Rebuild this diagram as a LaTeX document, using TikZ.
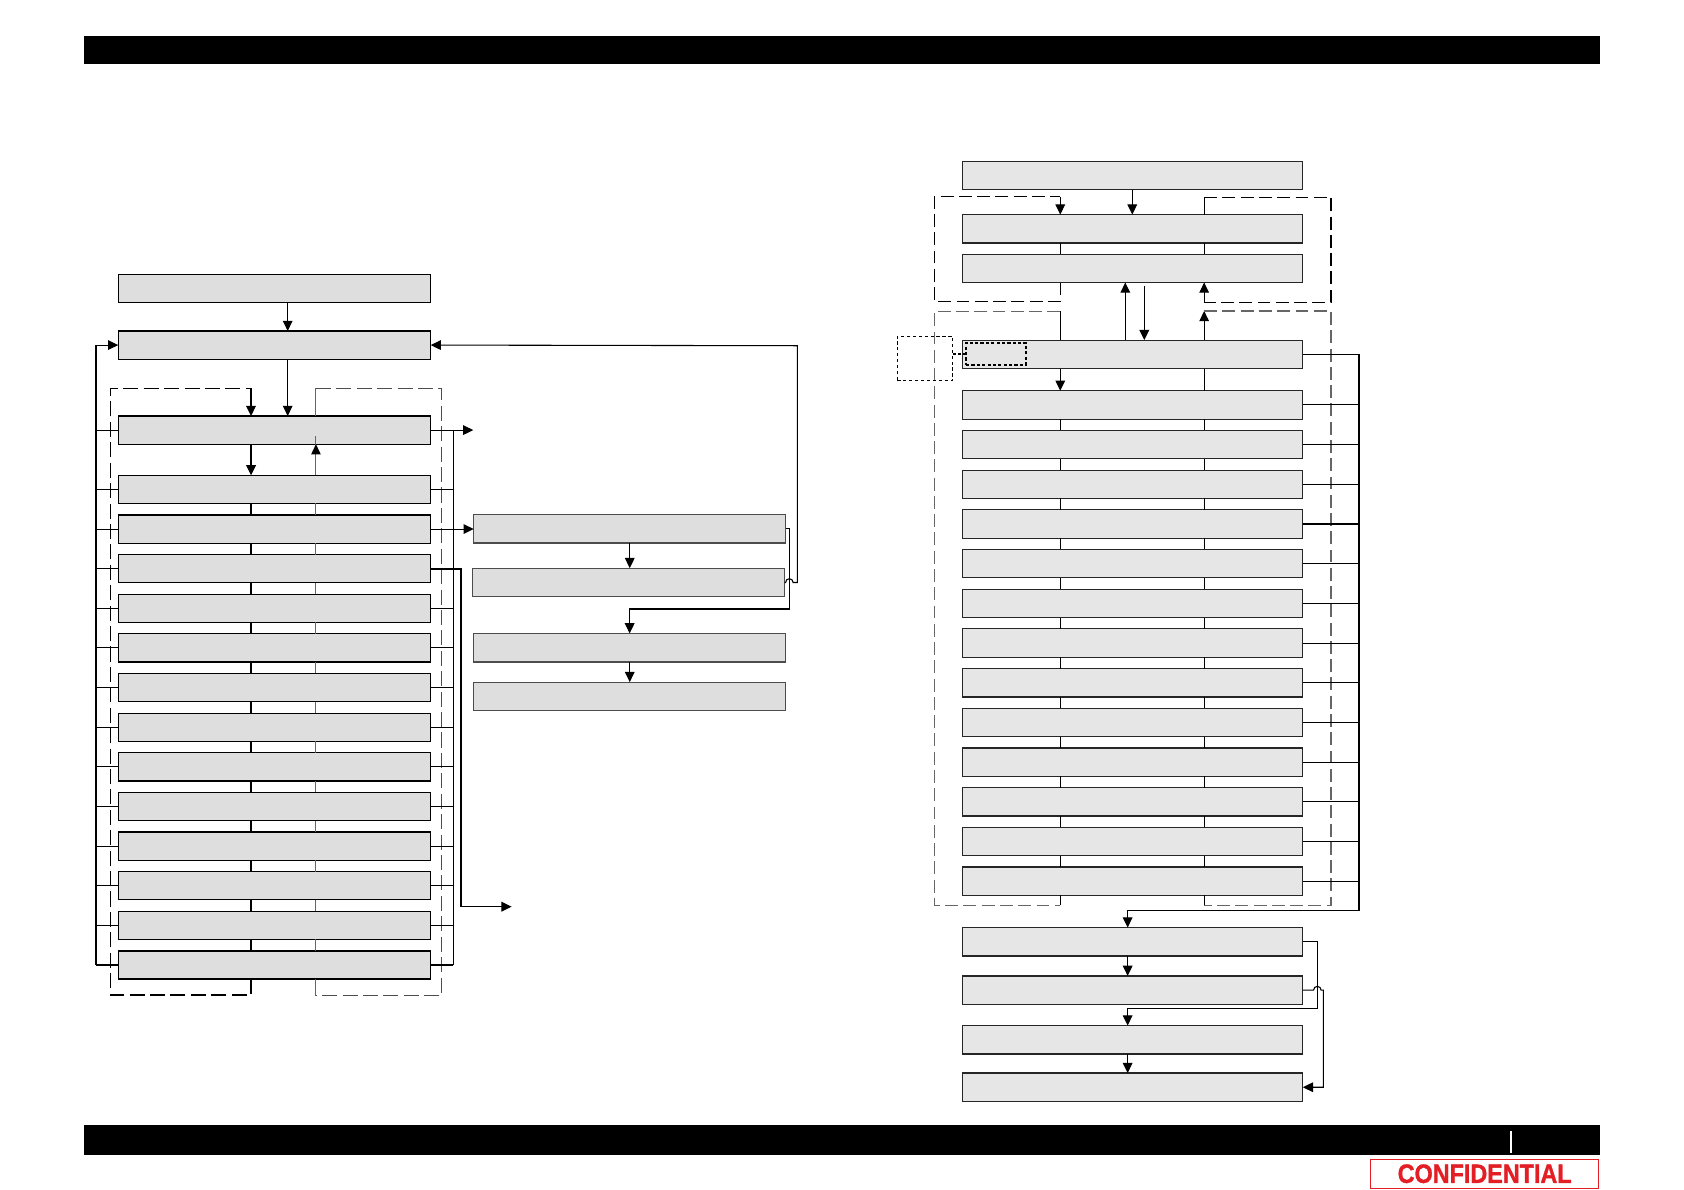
\documentclass[tikz,border=0pt]{standalone}
\usepackage{fontspec}
\setmainfont{Liberation Sans}
\newfontfamily\confont{Liberation Sans}[BoldFeatures={FakeBold=1.3}]
\usepackage{graphicx}
\usetikzlibrary{arrows.meta}
\definecolor{boxL}{HTML}{DEDEDE}
\definecolor{boxR}{HTML}{E6E6E6}
\definecolor{confred}{HTML}{E31E24}
\begin{document}
\begin{tikzpicture}[x=1pt,y=-1pt,
  line width=1pt,
  lbox/.style={draw=black,line width=1.1pt,fill=boxL,minimum width=290.8pt,minimum height=26.2pt,inner sep=0pt,outer sep=0pt},
  mbox/.style={draw=black!70,line width=1.1pt,fill=boxL,minimum width=290.4pt,minimum height=26.6pt,inner sep=0pt,outer sep=0pt},
  rbox/.style={draw=black!85,line width=1.1pt,fill=boxR,minimum width=316.8pt,minimum height=26.4pt,inner sep=0pt,outer sep=0pt},
  arr/.style={-{Triangle[length=9.5pt,width=9pt]}},
  dashL/.style={line width=1.4pt,dash pattern=on 14pt off 5pt},
  dashLg/.style={line width=1.1pt,black!70,dash pattern=on 14pt off 5pt},
  dashR/.style={line width=1pt,dash pattern=on 12pt off 5pt},
  dashRg/.style={line width=1pt,black!60,dash pattern=on 12pt off 5pt},
  dotbox/.style={draw=black,line width=0.8pt,dash pattern=on 3pt off 2.5pt,inner sep=0pt,outer sep=0pt},
  dotin/.style={draw=black,line width=1.8pt,dash pattern=on 3pt off 2pt,inner sep=0pt,outer sep=0pt}
]
\useasboundingbox (0,0) rectangle (1567,1107.3);

% header and footer bars
\fill[black] (78.2,33.2) rectangle (1488.8,59.8);
\fill[black] (78.2,1046.8) rectangle (1488.8,1074.7);
\draw[white,line width=1.3pt] (1406,1052.4) -- (1406,1072.6);
\node[draw=confred,line width=1.3pt,fill=white,minimum width=212.2pt,minimum height=26.9pt,inner sep=0pt] (conf) at (1381.5,1092.2)
  {\fontsize{24.7}{24.7}\selectfont\confont\bfseries\color{confred}\scalebox{0.88}[1]{CONFIDENTIAL}};

% ---------------- left column ----------------
\coordinate (lbus) at (89.3,0);
\coordinate (a1) at (233.6,0);
\coordinate (a2) at (294,0);
\coordinate (rbus) at (421.8,0);
\coordinate (thk) at (429,0);

\node[lbox] (LA) at (255.4,268.6) {};
\node[lbox] (LB) at (255.4,321.1) {};
\node[lbox] (L0) at (255.4,400.2) {};
\foreach \i in {1,...,13}{
  \pgfmathsetmacro\yc{455.4+(\i-1)*36.88}
  \node[lbox] (L\i) at (255.4,\yc) {};
}
\draw[arr] (LA.south -| 267.7,0) -- (LB.north -| 267.7,0);
\draw[arr] (LB.south -| 267.7,0) -- (L0.north -| 267.7,0);

% left dashed group
\draw[dashL] (a1 |- L13.south) -- (233.6,926) -- (103,926) -- (103,361.3) -- (233.6,361.3);
\draw[arr,line width=1.4pt] (233.6,361.3) -- (a1 |- L0.north);
\draw[black!60] (a2 |- L0.north) -- (294,361.3);
\draw[dashLg] (294,361.3) -- (410.7,361.3) -- (410.7,926.7) -- (294,926.7);
\draw[black!60] (294,926.7) -- (a2 |- L13.south);
\draw[arr,line width=1.5pt] (a1 |- L0.south) -- (a1 |- L1.north);
\draw[black!60,line width=1pt] (a2 |- L1.north) -- ([yshift=8pt]a2 |- L0.south);
\fill[black] (a2 |- L0.south) -- ++(-4.5,9.5) -- ++(9,0) -- cycle;
\foreach \i [count=\j from 2] in {1,...,12}{
  \draw[line width=1.6pt] (a1 |- L\i.south) -- (a1 |- L\j.north);
  \draw[black!60] (a2 |- L\i.south) -- (a2 |- L\j.north);
}

% left bus
\draw[arr] (L13.west -| lbus) -- (LB.west -| lbus) -- (LB.west);
\foreach \i in {0,...,13}{
  \draw (L\i.west) -- (L\i.west -| lbus);
  \draw (L\i.east) -- (L\i.east -| rbus);
}
\draw (L0.east -| rbus) -- (L13.east -| rbus);
\coordinate (outA) at (440.4,400.2);
\draw[arr] (L0.east) -- (outA);

% right sub-column
\node[mbox] (R1) at (586,492) {};
\node[mbox] (R2) at (584.8,542) {};
\node[mbox] (R3) at (586,602.7) {};
\node[mbox] (R4) at (586,648) {};
\draw[arr] (L2.east) -- (L2.east -| R1.west);
\draw[line width=1.8pt] (L3.east) -- (L3.east -| thk) -- (429,843.7);
\coordinate (outB) at (476.1,843.7);
\draw[arr] (429,843.7) -- (outB);

\draw[arr] (R1.south) -- (R1.south |- R2.north);
\draw[arr] (R3.south) -- (R3.south |- R4.north);
\draw[arr] (R1.east) -- (734.5,492) -- (734.5,566.7) -- (585.9,566.7) -- (585.9,0 |- R3.north);
\draw[arr] (R2.east) -- (731,542) arc[start angle=180,end angle=360,radius=3.5] -- (741.9,542) -- (741.9,321.7) -- (LB.east);

% ---------------- right column ----------------
\coordinate (c1) at (986.6,0);
\coordinate (c2) at (1120.5,0);
\coordinate (rb) at (1264.6,0);
\coordinate (cx) at (1049.3,0);

\node[rbox] (T0) at (1053.9,163.2) {};
\node[rbox] (T1) at (1053.9,212.9) {};
\node[rbox] (T2) at (1053.9,249.7) {};
\node[rbox] (Q0) at (1053.9,329.7) {};
\foreach \i in {1,...,13}{
  \pgfmathsetmacro\yc{376.8+(\i-1)*36.93}
  \node[rbox] (Q\i) at (1053.9,\yc) {};
}
\node[rbox] (B1) at (1053.9,876.3) {};
\node[rbox] (B2) at (1053.9,921.3) {};
\node[rbox] (B3) at (1053.9,967.5) {};
\node[rbox] (B4) at (1053.9,1011.7) {};

\draw[arr] (T0.south -| 1053.6,0) -- (T1.north -| 1053.6,0);
% upper dashed groups
\draw[dashR] (c1 |- T2.south) -- (986.6,280.4) -- (869.4,280.4) -- (869.4,183) -- (986.6,183);
\draw[arr] (986.6,183) -- (c1 |- T1.north);
\draw (c2 |- T1.north) -- (1120.5,183.6);
\draw[dashR] (1120.5,183.6) -- (1238.5,183.6) -- (1238.5,281.3) -- (1120.5,281.3);
\draw[arr] (1120.5,281.3) -- (c2 |- T2.south);
\draw (c1 |- T1.south) -- (c1 |- T2.north);
\draw (c2 |- T1.south) -- (c2 |- T2.north);
\coordinate (upA) at (1047.1,0);
\coordinate (dnA) at (1064.8,0);
\draw[arr] (upA |- Q0.north) -- (upA |- T2.south);
\draw[arr] (1064.8,265.8) -- (dnA |- Q0.north);

% lower dashed groups
\draw (c1 |- Q0.north) -- (986.6,289.7);
\draw[dashRg] (986.6,289.7) -- (869.4,289.7) -- (869.4,842.4) -- (986.6,842.4);
\draw (986.6,842.4) -- (c1 |- Q13.south);
\draw[arr] (c2 |- Q0.north) -- (1120.5,289.4);
\draw[dashRg] (1120.5,289.4) -- (1238.5,289.4) -- (1238.5,842.4) -- (1120.5,842.4);
\draw (1120.5,842.4) -- (c2 |- Q13.south);
\draw[arr] (c1 |- Q0.south) -- (c1 |- Q1.north);
\draw (c2 |- Q0.south) -- (c2 |- Q1.north);
\foreach \i [count=\j from 2] in {1,...,12}{
  \draw (c1 |- Q\i.south) -- (c1 |- Q\j.north);
  \draw (c2 |- Q\i.south) -- (c2 |- Q\j.north);
}

% note boxes
\node[dotbox,minimum width=51.5pt,minimum height=40.9pt] (note) at (860.75,333.45) {};
\node[dotin,minimum width=55.5pt,minimum height=20.4pt] (noteIn) at (926.65,329.1) {};
\draw[line width=1.6pt,dash pattern=on 3pt off 2pt] (note.east |- noteIn.west) -- (noteIn.west);

% right bus
\draw (Q0.east) -- (Q0.east -| rb) -- (1264.6,847.1) -- (1049.3,847.1);
\draw[arr] (1049.3,847.1) -- (cx |- B1.north);
\foreach \i in {1,...,13}{
  \draw (Q\i.east) -- (Q\i.east -| rb);
}

% bottom chain
\draw[arr] (cx |- B1.south) -- (cx |- B2.north);
\draw[arr] (cx |- B3.south) -- (cx |- B4.north);
\draw[arr] (B1.east) -- (1225.8,0 |- B1.east) -- (1225.8,938.3) -- (1049.3,938.3) -- (cx |- B3.north);
\draw[arr] (B2.east) -- (1222.3,0 |- B2.east) arc[start angle=180,end angle=360,radius=3.5] -- (1231.4,0 |- B2.east) -- (1231.4,0 |- B4.east) -- (B4.east);
\end{tikzpicture}
\end{document}
